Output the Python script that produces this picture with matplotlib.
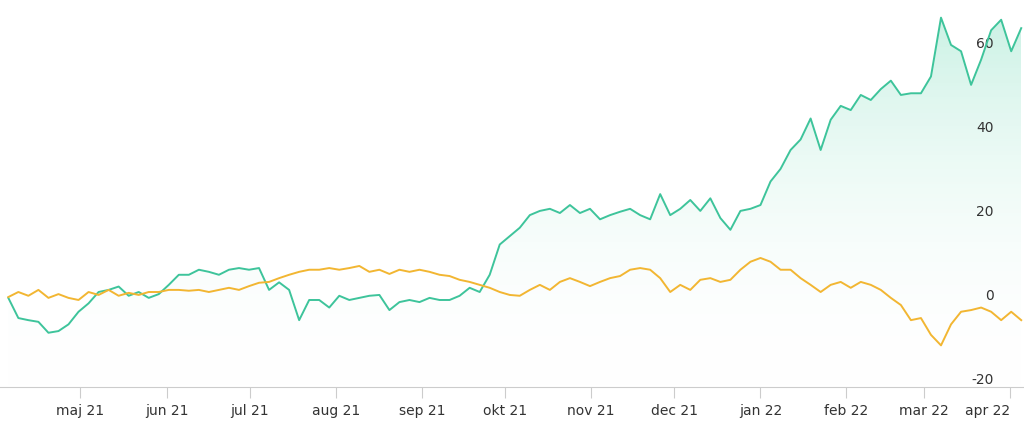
import matplotlib
matplotlib.use('Agg')
import matplotlib.pyplot as plt
import matplotlib.dates as mdates
import numpy as np
import pandas as pd
from matplotlib.patches import Polygon

GREEN = [-0.7, -5.5, -6, -6.4, -9, -8.6, -7, -4, -2, 0.7, 1.2, 2, -0.2, 0.7, -0.7, 0.2,
         2.4, 4.8, 4.8, 6, 5.5, 4.8, 6, 6.4, 6, 6.4, 1.2, 3, 1.2, -6, -1.2, -1.2, -3,
         -0.2, -1.2, -0.7, -0.2, 0, -3.6, -1.7, -1.2, -1.7, -0.7, -1.2, -1.2, -0.2, 1.7,
         0.7, 4.8, 12, 14, 16, 19, 20, 20.5, 19.5, 21.4, 19.5, 20.5, 18, 19, 19.8, 20.5,
         19, 18, 24, 19, 20.5, 22.6, 20, 23, 18.3, 15.5, 20, 20.5, 21.4, 27, 30, 34.5,
         37, 42, 34.5, 41.7, 45, 44, 47.6, 46.4, 49, 51, 47.6, 48, 48, 52, 66, 59.5, 58,
         50, 56, 63, 65.5, 58, 63.5]
ORANGE = [-0.5, 0.7, -0.2, 1.2, -0.7, 0.2, -0.7, -1.2, 0.7, 0, 1.2, -0.2, 0.5, 0, 0.7,
          0.7, 1.2, 1.2, 1, 1.2, 0.7, 1.2, 1.7, 1.2, 2.1, 2.9, 3.1, 4, 4.8, 5.5, 6, 6,
          6.4, 6, 6.4, 6.9, 5.5, 6, 5, 6, 5.5, 6, 5.5, 4.8, 4.5, 3.6, 3.1, 2.4, 1.7, 0.7,
          0, -0.2, 1.2, 2.4, 1.2, 3.1, 4, 3.1, 2.1, 3.1, 4, 4.5, 6, 6.4, 6, 4, 0.7, 2.4,
          1.2, 3.6, 4, 3.1, 3.6, 6, 7.9, 8.8, 7.9, 6, 6, 4, 2.4, 0.7, 2.4, 3.1, 1.7, 3.1,
          2.4, 1.2, -0.7, -2.4, -6, -5.5, -9.5, -12, -7, -4, -3.6, -3, -4, -6, -4, -6]
MONTHS = ['maj 21', 'jun 21', 'jul 21', 'aug 21', 'sep 21', 'okt 21', 'nov 21',
          'dec 21', 'jan 22', 'feb 22', 'mar 22', 'apr 22']
YTICKS = [-20, 0, 20, 40, 60]

start, end = pd.Timestamp('2021-04-05'), pd.Timestamp('2022-04-05')
g_dates = pd.date_range(start, end, periods=len(GREEN))
o_dates = pd.date_range(start, end, periods=len(ORANGE))
month_dates = pd.date_range('2021-05-01', periods=len(MONTHS), freq='MS')

fig = plt.figure(figsize=(10.24, 4.29), dpi=100)
ax = fig.add_axes([0, 0.098, 1, 0.902])
ymin, ymax = -21.9, 70.2
ax.set_xlim(pd.Timestamp('2021-04-02'), pd.Timestamp('2022-04-06'))
ax.set_ylim(ymin, ymax)

# gradient fill under the green line
gx = mdates.date2num(g_dates)
grad = np.linspace(0, 1, 256).reshape(-1, 1)
cmap = matplotlib.colors.LinearSegmentedColormap.from_list(
    'g', [(1, 1, 1, 0), (0.80, 0.95, 0.90, 1)])
im = ax.imshow(grad, extent=[gx[0], gx[-1], ymin, max(GREEN)], origin='lower',
               aspect='auto', cmap=cmap, zorder=1)
poly = Polygon(np.column_stack([np.r_[gx[0], gx, gx[-1]],
                                np.r_[ymin, GREEN, ymin]]),
               closed=True, transform=ax.transData, facecolor='none', edgecolor='none')
ax.add_patch(poly)
im.set_clip_path(poly)

ax.plot(g_dates, GREEN, color='#3ec49b', lw=1.4, zorder=3)
ax.plot(o_dates, ORANGE, color='#f2b632', lw=1.4, zorder=3)

for s in ['top', 'left', 'right']:
    ax.spines[s].set_visible(False)
ax.spines['bottom'].set_color('#cccccc')
ax.set_xticks(month_dates)
ax.set_xticklabels(MONTHS, fontsize=10, color='#333333')
ax.get_xticklabels()[-1].set_horizontalalignment('right')
ax.tick_params(axis='x', length=8, color='#cccccc', pad=4)
ax.yaxis.tick_right()
ax.set_yticks(YTICKS)
ax.set_yticklabels([str(v) for v in YTICKS], fontsize=10, color='#333333')
ax.tick_params(axis='y', length=0, pad=-22)
for lab in ax.get_yticklabels():
    lab.set_horizontalalignment('right')
ax.set_facecolor('white')

fig.savefig('out.png', dpi=100)
